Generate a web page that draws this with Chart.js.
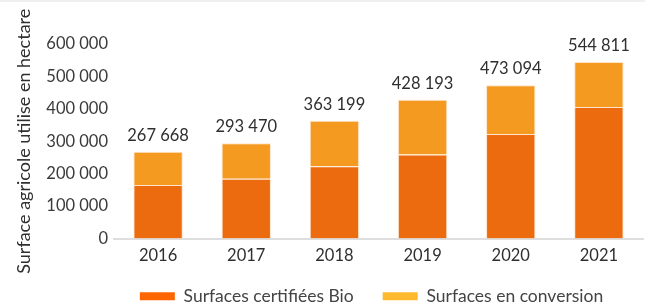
<!DOCTYPE html>
<html><head><meta charset="utf-8">
<script src="https://cdn.jsdelivr.net/npm/chart.js@4/dist/chart.umd.min.js"></script>
<style>
html,body{margin:0;padding:0;background:#fff;overflow:hidden;}
#wrap{position:relative;width:645px;height:307px;overflow:hidden;border-top:2px solid #f0f0f0;box-sizing:border-box;}
canvas{display:block;}
</style></head><body>
<div id="wrap"><canvas id="c" width="645" height="325"></canvas></div>
<script>
const years = ['2016','2017','2018','2019','2020','2021'];
const certifiees = [165000, 184000, 223000, 259000, 322000, 406000];
const conversion = [102668, 109470, 140199, 169193, 151094, 138811];
const totals = [267668, 293470, 363199, 428193, 473094, 544811];
const yTicks = [0, 100000, 200000, 300000, 400000, 500000, 600000];
const seriesNames = ['Surfaces certifiées Bio', 'Surfaces en conversion'];

const FONT = 'Lato, "DejaVu Sans", sans-serif';
const fmt = v => String(v).replace(/\B(?=(\d{3})+(?!\d))/g, ' ');

const totalLabels = {
  id: 'totalLabels',
  afterDatasetsDraw(chart) {
    const ctx = chart.ctx;
    const meta = chart.getDatasetMeta(1);
    ctx.save();
    ctx.font = '16.5px ' + FONT;
    ctx.fillStyle = '#2f2f2f';
    ctx.textAlign = 'center';
    ctx.textBaseline = 'bottom';
    meta.data.forEach((bar, i) => {
      ctx.fillText(fmt(totals[i]), bar.x, bar.y - 8);
    });
    ctx.restore();
  }
};

const shiftLegend = {
  id: 'shiftLegend',
  afterLayout(chart) {
    const lg = chart.legend;
    if (lg) { lg.left += 50; lg.right += 50; lg.top -= 12; lg.bottom -= 12; }
  }
};

new Chart(document.getElementById('c'), {
  type: 'bar',
  data: {
    labels: years,
    datasets: [
      { label: seriesNames[0], data: certifiees, backgroundColor: '#EB6B0E', borderColor: 'rgba(255,220,190,0.8)', borderWidth: 1, barPercentage: 0.56, categoryPercentage: 1.0 },
      { label: seriesNames[1], data: conversion, backgroundColor: '#F59A20', borderColor: 'rgba(255,220,190,0.8)', borderWidth: 1, barPercentage: 0.56, categoryPercentage: 1.0 }
    ]
  },
  options: {
    responsive: false,
    animation: false,
    layout: { padding: { left: 0, right: 2, top: 42, bottom: 0 } },
    scales: {
      x: {
        stacked: true,
        grid: { display: false, drawTicks: false },
        border: { color: '#dedede', width: 2 },
        ticks: { color: '#2f2f2f', font: { family: FONT, size: 16.5 }, padding: 7 },
        afterFit(s) { s.height = 32; }
      },
      y: {
        stacked: true,
        min: 0, max: 600000,
        afterBuildTicks(s) { s.ticks = yTicks.map(v => ({ value: v })); },
        grid: { display: false, drawTicks: false },
        border: { display: false },
        ticks: { color: '#3a3a3a', font: { family: FONT, size: 16.5 }, padding: 6, callback: v => fmt(v) },
        title: { display: true, text: 'Surface agricole utilise en hectare', color: '#2f2f2f', font: { family: FONT, size: 18 }, padding: { top: 13, bottom: 0 } },
        afterFit(s) { s.width = 114; }
      }
    },
    plugins: {
      tooltip: { enabled: false },
      legend: {
        position: 'bottom',
        labels: {
          color: '#444',
          font: { family: FONT, size: 17.5 },
          boxWidth: 35, boxHeight: 8, padding: 29,
          generateLabels(chart) {
            const cols = ['#FF6600', '#FFB92E'];
            return seriesNames.map((n, i) => ({ text: n, fillStyle: cols[i], strokeStyle: cols[i], lineWidth: 0, datasetIndex: i, fontColor: '#444' }));
          }
        }
      }
    }
  },
  plugins: [totalLabels, shiftLegend]
});
</script>
</body></html>
